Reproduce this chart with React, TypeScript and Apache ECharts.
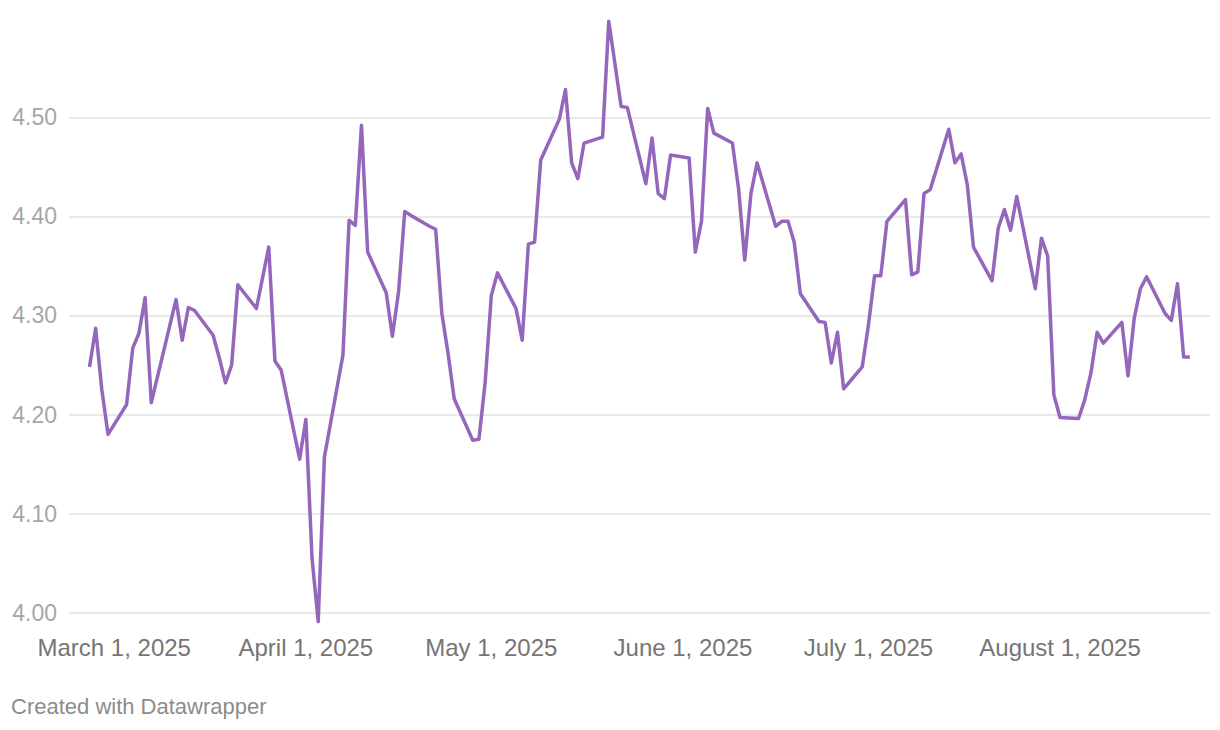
import React, { useEffect, useRef } from "react";
import * as echarts from "echarts";

const dates: string[] = [
  "2025-02-25", "2025-02-26", "2025-02-27", "2025-02-28",
  "2025-03-03", "2025-03-04", "2025-03-05", "2025-03-06", "2025-03-07",
  "2025-03-10", "2025-03-11", "2025-03-12", "2025-03-13", "2025-03-14",
  "2025-03-17", "2025-03-18", "2025-03-19", "2025-03-20", "2025-03-21",
  "2025-03-24", "2025-03-25", "2025-03-26", "2025-03-27", "2025-03-28",
  "2025-03-31", "2025-04-01", "2025-04-02", "2025-04-03", "2025-04-04",
  "2025-04-07", "2025-04-08", "2025-04-09", "2025-04-10", "2025-04-11",
  "2025-04-14", "2025-04-15", "2025-04-16", "2025-04-17", "2025-04-18",
  "2025-04-21", "2025-04-22", "2025-04-23", "2025-04-24", "2025-04-25",
  "2025-04-28", "2025-04-29", "2025-04-30", "2025-05-01", "2025-05-02",
  "2025-05-05", "2025-05-06", "2025-05-07", "2025-05-08", "2025-05-09",
  "2025-05-12", "2025-05-13", "2025-05-14", "2025-05-15", "2025-05-16",
  "2025-05-19", "2025-05-20", "2025-05-21", "2025-05-22", "2025-05-23",
  "2025-05-26", "2025-05-27", "2025-05-28", "2025-05-29", "2025-05-30",
  "2025-06-02", "2025-06-03", "2025-06-04", "2025-06-05", "2025-06-06",
  "2025-06-09", "2025-06-10", "2025-06-11", "2025-06-12", "2025-06-13",
  "2025-06-16", "2025-06-17", "2025-06-18", "2025-06-19", "2025-06-20",
  "2025-06-23", "2025-06-24", "2025-06-25", "2025-06-26", "2025-06-27",
  "2025-06-30", "2025-07-01", "2025-07-02", "2025-07-03", "2025-07-04",
  "2025-07-07", "2025-07-08", "2025-07-09", "2025-07-10", "2025-07-11",
  "2025-07-14", "2025-07-15", "2025-07-16", "2025-07-17", "2025-07-18",
  "2025-07-21", "2025-07-22", "2025-07-23", "2025-07-24", "2025-07-25",
  "2025-07-28", "2025-07-29", "2025-07-30", "2025-07-31", "2025-08-01",
  "2025-08-04", "2025-08-05", "2025-08-06", "2025-08-07", "2025-08-08",
  "2025-08-11", "2025-08-12", "2025-08-13", "2025-08-14", "2025-08-15",
  "2025-08-18", "2025-08-19", "2025-08-20", "2025-08-21", "2025-08-22",
];

const values: number[] = [
  4.248, 4.287, 4.225, 4.180,
  4.210, 4.267, 4.282, 4.318, 4.212,
  4.290, 4.316, 4.275, 4.308, 4.305,
  4.280, 4.257, 4.232, 4.250, 4.331,
  4.307, 4.338, 4.369, 4.254, 4.245,
  4.155, 4.195, 4.055, 3.991, 4.157,
  4.260, 4.396, 4.391, 4.492, 4.364,
  4.323, 4.279, 4.324, 4.405, 4.401,
  4.390, 4.387, 4.302, 4.262, 4.216,
  4.174, 4.175, 4.232, 4.320, 4.343,
  4.307, 4.275, 4.372, 4.374, 4.457,
  4.498, 4.528, 4.454, 4.438, 4.474,
  4.480, 4.597, 4.554, 4.511, 4.510,
  4.433, 4.479, 4.423, 4.418, 4.462,
  4.459, 4.364, 4.395, 4.509, 4.484,
  4.474, 4.428, 4.356, 4.423, 4.454,
  4.390, 4.395, 4.395, 4.374, 4.322,
  4.294, 4.293, 4.252, 4.283, 4.226,
  4.248, 4.290, 4.340, 4.340, 4.395,
  4.417, 4.341, 4.344, 4.423, 4.427,
  4.488, 4.454, 4.463, 4.432, 4.369,
  4.335, 4.388, 4.407, 4.386, 4.420,
  4.327, 4.378, 4.360, 4.220, 4.197,
  4.196, 4.215, 4.242, 4.283, 4.272,
  4.293, 4.239, 4.297, 4.327, 4.339,
  4.302, 4.295, 4.332, 4.258, 4.258,
];

const xTickDates: string[] = [
  "2025-03-01", "2025-04-01", "2025-05-01", "2025-06-01", "2025-07-01", "2025-08-01",
];

const yTicks: number[] = [4.0, 4.1, 4.2, 4.3, 4.4, 4.5];

const MONTHS = [
  "January", "February", "March", "April", "May", "June",
  "July", "August", "September", "October", "November", "December",
];

const AXIS_START = Date.UTC(2025, 1, 21, 16, 30);
const AXIS_END = Date.UTC(2025, 7, 25, 6, 14);

export default function App() {
  const ref = useRef<HTMLDivElement>(null);

  useEffect(() => {
    if (!ref.current) return;
    const chart = echarts.init(ref.current, undefined, { renderer: "svg" });
    const seriesData = dates.map((d, i) => [Date.parse(d), values[i]]);
    const font = "'Liberation Sans', Arial, Helvetica, sans-serif";

    chart.setOption({
      animation: false,
      backgroundColor: "#ffffff",
      grid: { left: 69, right: 10, top: 117.3, bottom: 117.3, containLabel: false },
      xAxis: {
        type: "value",
        min: AXIS_START,
        max: AXIS_END,
        axisLine: { show: false },
        axisTick: { show: false },
        splitLine: { show: false },
        axisLabel: {
          customValues: xTickDates.map((d) => Date.parse(d)),
          formatter: (v: number) => {
            const dt = new Date(v);
            return `${MONTHS[dt.getUTCMonth()]} ${dt.getUTCDate()}, ${dt.getUTCFullYear()}`;
          },
          fontSize: 24,
          fontFamily: font,
          color: "#757575",
          margin: 23,
          hideOverlap: false,
        },
      },
      yAxis: {
        type: "value",
        min: yTicks[0],
        max: yTicks[yTicks.length - 1],
        interval: 0.1,
        axisLine: { show: false },
        axisTick: { show: false },
        splitLine: { show: true, lineStyle: { color: "#e2e2e2", width: 1.5 } },
        axisLabel: {
          formatter: (v: number) => v.toFixed(2),
          fontSize: 23,
          fontFamily: font,
          color: "#a6a6a6",
          margin: 12,
        },
      },
      series: [
        {
          type: "line",
          data: seriesData,
          showSymbol: false,
          symbol: "none",
          clip: false,
          lineStyle: { color: "#9467bd", width: 3.5, join: "round" },
          itemStyle: { color: "#9467bd" },
          z: 5,
        },
      ],
      graphic: [
        {
          type: "text",
          left: 11,
          top: 695,
          style: {
            text: "Created with Datawrapper",
            fontSize: 22,
            fontFamily: font,
            fill: "#8c8c8c",
          },
        },
      ],
    });

    return () => chart.dispose();
  }, []);

  return (
    <div
      ref={ref}
      style={{ position: "fixed", left: 0, top: 0, width: 1220, height: 730, background: "#fff" }}
    />
  );
}
